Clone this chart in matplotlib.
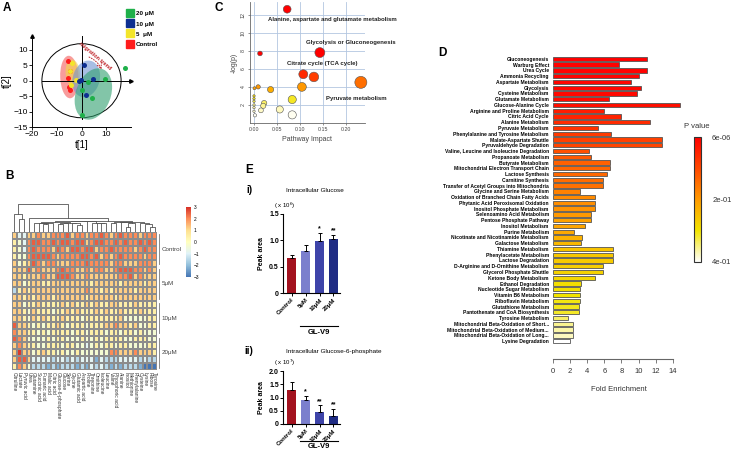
import numpy as np
import matplotlib
matplotlib.use('Agg')
import matplotlib.pyplot as plt
from matplotlib.patches import Ellipse
from matplotlib.colors import LinearSegmentedColormap, Normalize
from matplotlib.lines import Line2D
from matplotlib.cm import ScalarMappable
import matplotlib.transforms as mtransforms

plt.rcParams['font.family'] = ['Liberation Sans', 'DejaVu Sans']

W, H = 732, 453

# ---------------- data ----------------
# A: PCA scores per group
pca_groups = ['20 μM', '10 μM', '5  μM', 'Control']
pca_colors = ['#1fb04a', '#0d2f91', '#f3e52a', '#ff1c1c']
ellipse_colors = ['#2f9f6e', '#6f93d3', '#f4d84a', '#f45b5b']
t1_20 = [17.6, 9.6, 2.5, 0.3, 4.3, 0.0]
t2_20 = [4.2, 0.6, -0.4, -3.1, -5.5, -11.2]
t1_10 = [0.9, -0.1, 4.7, 1.7, -1.2]
t2_10 = [5.1, 0.3, 0.6, -4.6, -0.2]
t1_5 = [-3.7, -4.7, -2.3, -4.2]
t2_5 = [5.7, 3.3, 0.3, -1.5]
t1_ctrl = [-5.3, -4.7, -5.1, -4.7, -5.6]
t2_ctrl = [6.5, 3.2, -2.0, -3.1, 0.8]
# group ellipses: centre x, centre y, width, height, angle
ell_cx = [4.8, 1.9, -3.5, -4.9]
ell_cy = [-4.3, 0.6, 2.4, 1.2]
ell_w = [18.0, 10.5, 5.8, 7.4]
ell_h = [13.5, 12.5, 9.0, 13.8]
ell_ang = [55, -35, 8, 3]

# B: heatmap, each digit is a colour level (see heat_levels), rows = samples
heat_levels = [-3.0, -2.2, -1.5, -0.9, -0.35, 0.5, 1.2, 2.0, 2.5, 2.9]
heat_rows = [
    "6336676677 7867767787 6787776777",
    "5437887787 8878867887 7878778787",
    "5437877768 7688788677 8777767877",
    "5447888876 7777887867 6787777677",
    "6456876776 6677787777 6776667776",
    "6668676667 8776676776 6788877676",
    "6656667668 8876676666 6677867666",
    "6645665566 6666665666 6656666566",
    "2565666666 6666676656 5666656666",
    "6656566656 6666656666 6566666666",
    "6645565555 6565565655 6655565555",
    "6654655545 5656555656 5565556555",
    "6654656555 6555455555 5564444455",
    "8665454556 5455545556 6766564455",
    "7665545455 5545545554 5545545444",
    "8764444545 5444544545 5554455544",
    "6765544555 4554434545 5455444455",
    "6966456554 5445444444 7766676665",
    "6886333323 3232333132 2233332322",
    "5764222121 2221213232 1212221000",
]
metabolites = ['Citrulline', 'Lactate', 'Pyruvic acid', 'Urea', 'Glutamine',
               'Succinic acid', 'Fumaric acid', 'Malic acid', 'Citric acid',
               'Glucose-6-phosphate', 'Glucose', 'Serine', 'Glycine',
               'Glutamic acid', 'Aspartic acid', 'Proline', 'Threonine',
               'Ornithine', 'Isoleucine', 'Leucine', 'Valine', 'Phosphoric acid',
               'Alanine', 'Inositol', 'Methionine', 'Phenylalanine',
               'Cysteine', 'Lysine', 'Ribose', 'Tyrosine']
sample_groups = ['Control', '5μM', '10μM', '20μM']

# C: pathway analysis
impact = [0.072, 0.143, 0.013, 0.107, 0.130, 0.232, 0.104, 0.009, 0.001, 0.036,
          0.083, 0.000, 0.000, 0.000, 0.022, 0.020, 0.056, 0.015, 0.000, 0.000,
          0.000, 0.083, 0.002]
neglogp = [12.6, 7.8, 7.7, 5.4, 5.1, 4.5, 4.0, 4.0, 3.85, 3.7,
           2.6, 3.0, 2.7, 2.4, 2.2, 1.9, 1.5, 1.4, 2.0, 1.7,
           1.3, 0.9, 0.85]

# D: enrichment
pathways = ['Gluconeogenesis', 'Warburg Effect', 'Urea Cycle', 'Ammonia Recycling',
            'Aspartate Metabolism', 'Glycolysis', 'Cysteine Metabolism',
            'Glutamate Metabolism', 'Glucose-Alanine Cycle',
            'Arginine and Proline Metabolism', 'Citric Acid Cycle',
            'Alanine Metabolism', 'Pyruvate Metabolism',
            'Phenylalanine and Tyrosine Metabolism', 'Malate-Aspartate Shuttle',
            'Pyruvaldehyde Degradation', 'Valine, Leucine and Isoleucine Degradation',
            'Propanoate Metabolism', 'Butyrate Metabolism',
            'Mitochondrial Electron Transport Chain', 'Lactose Synthesis',
            'Carnitine Synthesis', 'Transfer of Acetyl Groups into Mitochondria',
            'Glycine and Serine Metabolism', 'Oxidation of Branched Chain Fatty Acids',
            'Phytanic Acid Peroxisomal Oxidation', 'Inositol Phosphate Metabolism',
            'Selenoamino Acid Metabolism', 'Pentose Phosphate Pathway',
            'Inositol Metabolism', 'Purine Metabolism',
            'Nicotinate and Nicotinamide Metabolism', 'Galactose Metabolism',
            'Thiamine Metabolism', 'Phenylacetate Metabolism', 'Lactose Degradation',
            'D-Arginine and D-Ornithine Metabolism', 'Glycerol Phosphate Shuttle',
            'Ketone Body Metabolism', 'Ethanol Degradation',
            'Nucleotide Sugar Metabolism', 'Vitamin B6 Metabolism',
            'Riboflavin Metabolism', 'Glutathione Metabolism',
            'Pantothenate and CoA Biosynthesis', 'Tyrosine Metabolism',
            'Mitochondrial Beta-Oxidation of Short...',
            'Mitochondrial Beta-Oxidation of Medium...',
            'Mitochondrial Beta-Oxidation of Long...', 'Lysine Degradation']
fold = [11.0, 7.7, 11.0, 10.0, 9.1, 10.25, 9.8, 6.5, 14.85, 6.0,
        7.9, 11.3, 5.3, 6.8, 12.8, 12.8, 4.2, 4.5, 6.7, 6.7,
        6.35, 5.8, 5.8, 3.2, 4.9, 4.9, 4.9, 4.5, 4.4, 3.8,
        2.5, 3.4, 3.3, 7.05, 7.05, 7.05, 5.8, 5.8, 4.9, 3.3,
        3.2, 3.2, 3.2, 3.0, 3.0, 1.7, 2.3, 2.3, 2.3, 2.0]
pvals = [0.001, 0.003, 0.004, 0.006, 0.008, 0.010, 0.012, 0.015, 0.020,
         0.040, 0.050, 0.060, 0.070, 0.080, 0.090, 0.095,
         0.110, 0.120, 0.130, 0.135, 0.140, 0.145, 0.150,
         0.170, 0.180, 0.185, 0.190, 0.200, 0.210, 0.215, 0.220, 0.230, 0.240,
         0.255, 0.260, 0.265, 0.270, 0.275, 0.280, 0.290, 0.295, 0.300, 0.305,
         0.310, 0.315, 0.340, 0.355, 0.365, 0.375, 0.400]

# E: peak areas
doses = ['Control', '5μM', '10μM', '20μM']
dose_colors = ['#a3121f', '#7b7fcd', '#3e44a9', '#1f2c84']
glc_mean = [0.67, 0.79, 0.98, 1.02]
glc_err = [0.05, 0.12, 0.15, 0.08]
glc_sig = ['', '', '*', '**']
g6p_mean = [1.28, 0.92, 0.45, 0.32]
g6p_err = [0.32, 0.13, 0.25, 0.25]
g6p_sig = ['', '*', '**', '**']

fig = plt.figure(figsize=(W / 100, H / 100), dpi=100)


def px_axes(x0, y0, x1, y1):
    return fig.add_axes([x0 / W, 1 - y1 / H, (x1 - x0) / W, (y1 - y0) / H])


def px_text(x, y, s, **kw):
    fig.text(x / W, 1 - y / H, s, **kw)


for lab, (x, y) in zip('ABCDE', [(7, 8), (10, 176), (219, 8), (442, 53), (249, 170)]):
    px_text(x, y, lab, fontsize=8.5, fontweight='bold', ha='center', va='center')

# ---------------- A ----------------
axA = px_axes(32, 36, 131, 127)
axA.set_xlim(-20, 20)
axA.set_ylim(-15, 14.5)
for s in ['top', 'right']:
    axA.spines[s].set_visible(False)
for s in ['left', 'bottom']:
    axA.spines[s].set_linewidth(0.7)
axA.set_xticks([-20, -10, 0, 10])
axA.set_yticks([-15, -10, -5, 0, 5, 10])
axA.tick_params(labelsize=6, length=2, width=0.6, pad=1)
axA.set_xlabel('t[1]', fontsize=7, labelpad=1)
axA.set_ylabel('t[2]', fontsize=7, labelpad=1)
axA.plot(0, 1, '^k', ms=2.5, transform=axA.transAxes, clip_on=False)
axA.plot([-16, 20], [0, 0], color='k', lw=0.7)
axA.plot(20, 0, '>k', ms=2.5, clip_on=False)
axA.plot([0, 0], [-12.5, 14.5], color='k', lw=0.7)
axA.add_patch(Ellipse((0, 0), 32, 24, fill=False, ec='k', lw=0.7))
for i in [3, 2, 1, 0]:
    axA.add_patch(Ellipse((ell_cx[i], ell_cy[i]), ell_w[i], ell_h[i], angle=ell_ang[i],
                          color=ellipse_colors[i], alpha=0.6, lw=0))
pts = [(t1_20, t2_20), (t1_10, t2_10), (t1_5, t2_5), (t1_ctrl, t2_ctrl)]
for i in [3, 2, 1, 0]:
    axA.scatter(pts[i][0], pts[i][1], s=13, color=pca_colors[i], lw=0, zorder=3, clip_on=False)
axA.text(5.5, 8.0, 'migration trend', rotation=-40, color='#c0282d', fontsize=4,
         fontweight='bold', ha='center', va='center')
axA.annotate('', xy=(8.5, 2.8), xytext=(2.0, 8.0),
             arrowprops=dict(arrowstyle='->', color='#c0282d', lw=0.7, ls=':',
                             connectionstyle='arc3,rad=-0.25'))
handles = [Line2D([], [], marker='s', ls='', color=c, ms=6) for c in pca_colors]
leg = fig.legend(handles, pca_groups, loc='upper left', bbox_to_anchor=(124 / W, 1 - 8 / H),
                 frameon=False, fontsize=4.5, handletextpad=0.4, labelspacing=0.75,
                 borderpad=0, handlelength=1)
for t in leg.get_texts():
    t.set_fontweight('bold')

# ---------------- B ----------------
vals = np.array([[heat_levels[int(c)] for c in r.replace(' ', '')] for r in heat_rows])
n_rows, n_cols = vals.shape
cmapB = LinearSegmentedColormap.from_list(
    'ph', ['#4575B4', '#91BFDB', '#E0F3F8', '#FFFFBF', '#FEE090', '#FC8D59', '#D73027'])
axB = px_axes(12, 232, 157, 370)
mesh = axB.pcolormesh(vals, cmap=cmapB, vmin=-3, vmax=3, edgecolors='#8c8c8c', linewidth=0.35)
axB.set_xlim(0, n_cols)
axB.set_ylim(n_rows, 0)
for s in axB.spines.values():
    s.set_visible(False)
axB.set_yticks([])
axB.set_xticks(np.arange(n_cols) + 0.5)
axB.set_xticklabels(metabolites, rotation=270, fontsize=3.5, color='#333333')
axB.tick_params(axis='x', length=0, pad=1.5)
per = n_rows // len(sample_groups)
for g, name in enumerate(sample_groups):
    axB.plot([n_cols + 0.4] * 2, [g * per + 0.3, (g + 1) * per - 0.3], color='#777777',
             lw=0.6, clip_on=False)
    axB.text(n_cols + 1.0, g * per + per / 2, name, fontsize=4.5, color='#444444',
             va='center', ha='left')


def adjacent_linkage(data):
    # average-linkage clustering that only merges neighbouring clusters (keeps column order)
    dist = np.linalg.norm(data[:, :, None] - data[:, None, :], axis=0)
    clusters = [[i] for i in range(data.shape[1])]
    pos = [i + 0.5 for i in range(data.shape[1])]
    hgt = [0.0] * data.shape[1]
    links = []
    while len(clusters) > 1:
        d = [dist[np.ix_(clusters[k], clusters[k + 1])].mean() for k in range(len(clusters) - 1)]
        k = int(np.argmin(d))
        h = max(d[k], hgt[k], hgt[k + 1]) + 0.05
        links.append((pos[k], hgt[k], pos[k + 1], hgt[k + 1], h))
        clusters[k] = clusters[k] + clusters.pop(k + 1)
        pos[k] = (pos[k] + pos.pop(k + 1)) / 2
        hgt.pop(k + 1)
        hgt[k] = h
    return links


axBd = px_axes(12, 203, 157, 232)
for x1, h1, x2, h2, h in adjacent_linkage(vals):
    axBd.plot([x1, x1, x2, x2], [h1, h, h, h2], color='#555555', lw=0.6)
axBd.set_xlim(0, n_cols)
axBd.set_ylim(0, None)
axBd.axis('off')

caxB = px_axes(186, 207, 191, 277)
cbB = fig.colorbar(mesh, cax=caxB, ticks=[-3, -2, -1, 0, 1, 2, 3])
cbB.outline.set_visible(False)
caxB.tick_params(labelsize=3.5, length=0, pad=2)

# ---------------- C ----------------
axC = px_axes(250, 2, 365, 123)
axC.set_xlim(-0.0087, 0.241)
axC.set_ylim(0, 13.4)
for s in ['top', 'right']:
    axC.spines[s].set_visible(False)
for s in ['left', 'bottom']:
    axC.spines[s].set_color('#666666')
    axC.spines[s].set_linewidth(0.6)
axC.set_xticks([0, 0.05, 0.10, 0.15, 0.20])
axC.set_xticklabels(['0.00', '0.05', '0.10', '0.15', '0.20'])
axC.set_yticks([2, 4, 6, 8, 10, 12])
axC.tick_params(labelsize=3.8, length=1.5, width=0.5, color='#666666', labelcolor='#444444', pad=1.5)
for t in axC.get_yticklabels():
    t.set_rotation(90)
    t.set_va('center')
axC.grid(True, color='#b3c6e0', lw=0.6)
axC.set_axisbelow(True)
axC.set_xlabel('Pathway Impact', fontsize=5, color='#444444', labelpad=3)
axC.set_ylabel('-log(p)', fontsize=5, color='#444444', labelpad=2)
cmapC = LinearSegmentedColormap.from_list('c', ['#ffffff', '#fff8a8', '#f2e200', '#ffa200', '#ff4a00', '#ff0000'])
impact_a = np.array(impact)
radius_px = 1.2 + 10 * np.sqrt(impact_a)
axC.scatter(impact, neglogp, s=(1.44 * radius_px) ** 2, c=neglogp, cmap=cmapC,
            norm=Normalize(0.7, 6.0), edgecolors='#555555', linewidths=0.4, zorder=3, clip_on=False)
lab_kw = dict(fontsize=4.3, fontweight='bold', color='#222222', va='center', clip_on=False)
axC.text(0.030, 11.5, 'Alanine, aspartate and glutamate metabolism', **lab_kw)
axC.text(0.113, 8.9, 'Glycolysis or Gluconeogenesis', **lab_kw)
axC.text(0.072, 6.6, 'Citrate cycle (TCA cycle)', **lab_kw)
axC.text(0.156, 2.7, 'Pyruvate metabolism', **lab_kw)

# ---------------- D ----------------
cmapD = LinearSegmentedColormap.from_list('d', [(0, '#ff0000'), (0.25, '#ff4800'), (0.5, '#ff9a00'),
                                                (0.75, '#f2e400'), (1.0, '#ffffff')])
normD = Normalize(6e-6, 0.4)
n_path = len(pathways)
axD = px_axes(553, 56, 553 + 15.5 * 8.55, 344)
ypos = np.arange(n_path)
axD.barh(ypos, fold, height=0.75, color=cmapD(normD(np.array(pvals))),
         edgecolor='#555555', linewidth=0.6)
axD.set_ylim(n_path - 0.5, -0.5)
axD.set_xlim(0, 15.5)
for s in ['top', 'right', 'left']:
    axD.spines[s].set_visible(False)
axD.spines['bottom'].set_bounds(0, 14)
axD.spines['bottom'].set_position(('outward', 11))
axD.spines['bottom'].set_color('#666666')
axD.set_yticks(ypos)
axD.set_yticklabels(pathways, fontsize=3.6, fontweight='bold')
axD.tick_params(axis='y', length=0, pad=3)
axD.set_xticks(range(0, 15, 2))
axD.tick_params(axis='x', labelsize=5.5, length=3, width=0.6, color='#666666', labelcolor='#333333')
axD.set_xlabel('Fold Enrichment', fontsize=5.5, color='#333333', labelpad=8)

caxD = px_axes(694, 137, 701, 262)
cbD = fig.colorbar(ScalarMappable(norm=normD, cmap=cmapD), cax=caxD, ticks=[6e-6, 0.2, 0.4])
cbD.ax.set_yticklabels(['6e-06', '2e-01', '4e-01'])
caxD.invert_yaxis()
caxD.tick_params(labelsize=5.5, length=0, pad=8, labelcolor='#333333')
cbD.outline.set_linewidth(0.8)
cbD.outline.set_edgecolor('#333333')
px_text(697, 126, 'P value', fontsize=5.5, ha='center', va='center', color='#333333')


# ---------------- E ----------------
def bar_panel(box, mean, err, sig, top, title, power, roman, title_y, under_frac):
    ax = px_axes(*box)
    x = np.arange(len(doses))
    ax.bar(x, mean, width=0.65, color=dose_colors)
    ax.errorbar(x, mean, yerr=[np.zeros(len(mean)), err], fmt='none', ecolor='k',
                elinewidth=0.7, capsize=1.5, capthick=0.7)
    for xi, m, e, s in zip(x, mean, err, sig):
        ax.text(xi, m + e + top * 0.01, s, ha='center', va='bottom', fontsize=5, fontweight='bold')
    ax.set_xlim(-0.625, 3.47)
    ax.set_ylim(0, top)
    ticks = np.arange(0, top + 0.01, 0.5)
    ax.set_yticks(ticks)
    ax.set_yticklabels(['0'] + ['%.1f' % t for t in ticks[1:]], fontsize=5, fontweight='bold')
    ax.set_xticks(x)
    ax.set_xticklabels(doses, rotation=45, ha='right', rotation_mode='anchor', fontsize=4.3,
                       fontweight='bold')
    ax.tick_params(length=2, width=0.7, pad=1)
    for s in ['top', 'right']:
        ax.spines[s].set_visible(False)
    for s in ['left', 'bottom']:
        ax.spines[s].set_linewidth(0.8)
    ax.set_ylabel('Peak area', fontsize=5, fontweight='bold', labelpad=3)
    tr = mtransforms.blended_transform_factory(ax.transData, ax.transAxes)
    ax.plot([0.6, 3.35], [under_frac, under_frac], color='k', lw=0.8, transform=tr, clip_on=False)
    ax.text(1.97, under_frac - 0.03, 'GL-V9', transform=tr, ha='center', va='top',
            fontsize=5.5, fontweight='bold')
    px_text(249, title_y, roman, fontsize=7, fontweight='bold', va='center', ha='center')
    px_text(box[0] + 3, title_y + 1, title, fontsize=4.6, va='center', ha='left')
    px_text(box[0] - 9, box[1] - 8, r'( x 10$^{%d}$)' % power, fontsize=4.3, va='center', ha='left')


bar_panel((283, 214, 340, 293), glc_mean, glc_err, glc_sig, 1.5, 'Intracellular Glucose', 6,
          'i)', 190, -0.42)
bar_panel((283, 371, 340, 424), g6p_mean, g6p_err, g6p_sig, 2.0,
          'Intracellular Glucose-6-phosphate', 7, 'ii)', 351, -0.33)

fig.savefig('out.png', dpi=100)
